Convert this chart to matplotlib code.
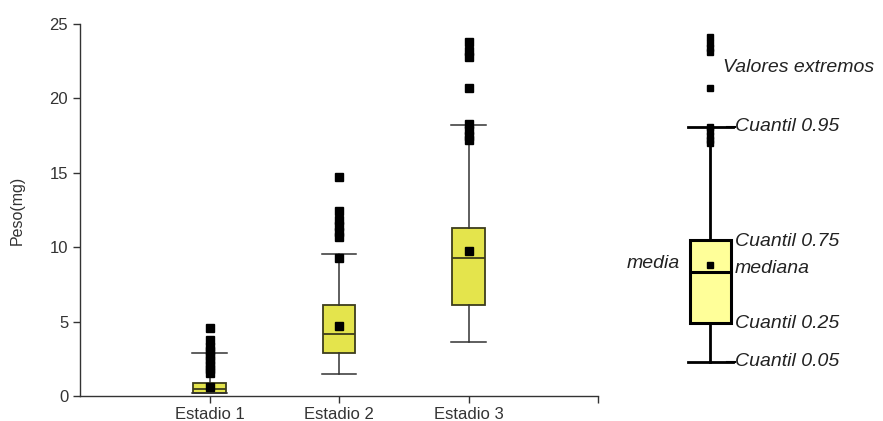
import matplotlib
matplotlib.use("Agg")
import matplotlib.pyplot as plt

plt.rcParams['font.family'] = ['Liberation Sans', 'DejaVu Sans']

# data
categories = ["Estadio 1", "Estadio 2", "Estadio 3"]
q1 = [0.2, 2.9, 6.1]
median = [0.45, 4.15, 9.3]
q3 = [0.87, 6.1, 11.3]
whis_low = [0.2, 1.45, 3.65]
whis_high = [2.9, 9.55, 18.2]
means = [0.6, 4.7, 9.75]
fliers = [
    [4.55, 3.75, 3.3, 3.0, 2.7, 2.4, 2.1, 1.8, 1.55],
    [14.7, 12.4, 11.8, 11.4, 11.0, 10.7, 9.3],
    [23.8, 23.2, 22.8, 20.7, 18.3, 17.9, 17.5, 17.2],
]

# explanatory box on the right
key_stats = dict(q1=4.9, med=8.3, q3=10.5, whislo=2.3, whishi=18.1, mean=8.8,
                 fliers=[24.1, 23.7, 23.4, 23.1, 20.7, 18.1, 17.8, 17.5, 17.2, 17.0])
key_labels = [("Valores extremos", 0.435, 22.1),
              ("Cuantil 0.95", 0.477, 18.1),
              ("Cuantil 0.75", 0.477, 10.4),
              ("mediana", 0.477, 8.55),
              ("Cuantil 0.25", 0.477, 4.85),
              ("Cuantil 0.05", 0.477, 2.3)]

W, H = 883, 421
fig = plt.figure(figsize=(W / 100, H / 100), dpi=100)
ax = fig.add_axes([80 / W, 1 - 396 / H, 518 / W, 372 / H])

stats = []
for i, c in enumerate(categories):
    stats.append(dict(label=c, q1=q1[i], med=median[i], q3=q3[i],
                      whislo=whis_low[i], whishi=whis_high[i],
                      mean=means[i], fliers=fliers[i]))

ax.bxp(stats, positions=[1, 2, 3], widths=0.25, capwidths=0.27,
       patch_artist=True, showmeans=True,
       boxprops=dict(facecolor='#e4e44c', edgecolor='#3d3d1c', linewidth=1.3),
       medianprops=dict(color='#3d3d1c', linewidth=1.3),
       whiskerprops=dict(color='#333333', linewidth=1.1),
       capprops=dict(color='#333333', linewidth=1.1),
       meanprops=dict(marker='s', markerfacecolor='black', markeredgecolor='black',
                      markersize=5.5),
       flierprops=dict(marker='s', markerfacecolor='black', markeredgecolor='black',
                       markersize=5.5))

ax.set_xlim(0, 4)
ax.set_ylim(0, 25)
ax.set_yticks([0, 5, 10, 15, 20, 25])
ax.set_xticks([1, 2, 3, 4])
ax.set_xticklabels(categories + [""])
ax.spines['top'].set_visible(False)
ax.spines['right'].set_visible(False)
for s in ['left', 'bottom']:
    ax.spines[s].set_color('#333333')
    ax.spines[s].set_linewidth(1.0)
ax.tick_params(axis='both', direction='out', length=5, width=1, color='#333333',
               labelsize=12, labelcolor='#333333')
ax.tick_params(axis='x', pad=3)
ax.set_ylabel("Peso(mg)", fontsize=11.5, color='#333333', labelpad=18)

# key box
ax2 = fig.add_axes([600 / W, 1 - 396 / H, 283 / W, 372 / H])
ax2.set_xlim(0, 1)
ax2.set_ylim(0, 25)
ax2.axis('off')
ax2.bxp([key_stats], positions=[0.39], widths=0.145, capwidths=0.16,
        patch_artist=True, showmeans=True,
        boxprops=dict(facecolor='#ffff99', edgecolor='black', linewidth=2.2),
        medianprops=dict(color='black', linewidth=2.2),
        whiskerprops=dict(color='black', linewidth=2),
        capprops=dict(color='black', linewidth=2),
        meanprops=dict(marker='s', markerfacecolor='black', markeredgecolor='black',
                       markersize=4.5),
        flierprops=dict(marker='s', markerfacecolor='black', markeredgecolor='black',
                        markersize=4.5))
ax2.plot([0.45, 0.477], [key_stats['whishi']] * 2, color='black', lw=1.5)
ax2.plot([0.45, 0.477], [key_stats['whislo']] * 2, color='black', lw=1.5)

for txt, x, y in key_labels:
    ax2.text(x, y, txt, fontsize=14, style='italic', color='#222222',
             ha='left', va='center')
ax2.text(0.283, 8.9, "media", fontsize=14, style='italic', color='#222222',
         ha='right', va='center')

fig.savefig("out.png", dpi=100)
